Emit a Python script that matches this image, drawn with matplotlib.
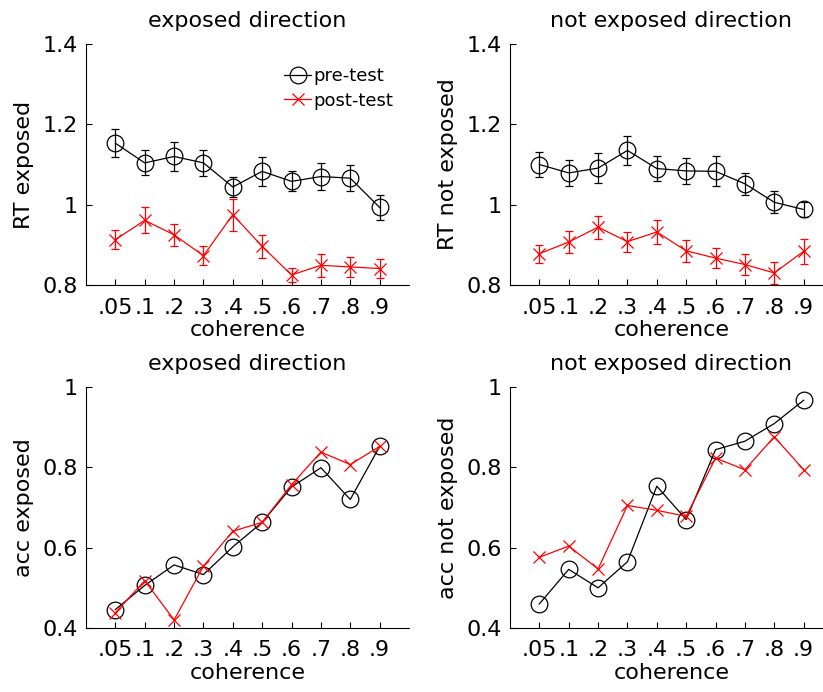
import matplotlib
matplotlib.use("Agg")
import matplotlib.pyplot as plt
from matplotlib.lines import Line2D
import numpy as np

coherence_labels = [".05", ".1", ".2", ".3", ".4", ".5", ".6", ".7", ".8", ".9"]

rt_exp_pre = [1.153, 1.104, 1.120, 1.104, 1.044, 1.083, 1.058, 1.070, 1.066, 0.993]
rt_exp_pre_err = [0.035, 0.031, 0.037, 0.033, 0.024, 0.036, 0.025, 0.034, 0.032, 0.030]
rt_exp_post = [0.913, 0.961, 0.925, 0.873, 0.975, 0.896, 0.825, 0.849, 0.845, 0.841]
rt_exp_post_err = [0.023, 0.032, 0.028, 0.023, 0.040, 0.029, 0.017, 0.029, 0.025, 0.024]

rt_nexp_pre = [1.100, 1.079, 1.091, 1.135, 1.090, 1.084, 1.083, 1.052, 1.006, 0.988]
rt_nexp_pre_err = [0.030, 0.032, 0.037, 0.037, 0.030, 0.032, 0.037, 0.028, 0.027, 0.018]
rt_nexp_post = [0.878, 0.907, 0.944, 0.908, 0.932, 0.885, 0.867, 0.851, 0.830, 0.884]
rt_nexp_post_err = [0.022, 0.027, 0.029, 0.025, 0.029, 0.027, 0.024, 0.025, 0.028, 0.031]

acc_exp_pre = [0.446, 0.506, 0.557, 0.533, 0.602, 0.663, 0.751, 0.799, 0.720, 0.852]
acc_exp_post = [0.438, 0.518, 0.420, 0.554, 0.641, 0.663, 0.757, 0.838, 0.807, 0.852]

acc_nexp_pre = [0.460, 0.546, 0.500, 0.565, 0.753, 0.670, 0.844, 0.865, 0.909, 0.967]
acc_nexp_post = [0.576, 0.604, 0.547, 0.705, 0.693, 0.678, 0.823, 0.794, 0.876, 0.794]

plt.rcParams['font.family'] = ['DejaVu Sans']
FS = 16

fig = plt.figure(figsize=(8.23, 6.92), dpi=100)
W, H = 823, 692

def make_ax(l, r, t, b):
    return fig.add_axes([l / W, (H - b) / H, (r - l) / W, (b - t) / H])

ax1 = make_ax(86, 409, 44, 285)
ax2 = make_ax(510, 833, 44, 285)
ax3 = make_ax(86, 409, 387, 628)
ax4 = make_ax(510, 833, 387, 628)

x = np.arange(1, len(coherence_labels) + 1)

def style(ax, ylim, yticks, ylabels, ylabel, title):
    ax.set_xlim(0, 11)
    ax.set_ylim(*ylim)
    ax.set_xticks(x)
    ax.set_xticklabels(coherence_labels, fontsize=FS)
    ax.set_yticks(yticks)
    ax.set_yticklabels(ylabels, fontsize=FS)
    ax.tick_params(direction='in', length=4, width=0.8)
    ax.tick_params(axis='x', pad=9)
    ax.tick_params(axis='y', pad=6)
    ax.spines['top'].set_visible(False)
    ax.spines['right'].set_visible(False)
    for s in ('left', 'bottom'):
        ax.spines[s].set_linewidth(0.8)
    ax.set_xlabel('coherence', fontsize=FS, labelpad=2)
    ax.set_ylabel(ylabel, fontsize=FS, labelpad=6)
    ax.set_title(title, fontsize=FS, pad=12)

def rt_plot(ax, pre, pre_err, post, post_err):
    ax.errorbar(x, pre, yerr=pre_err, color='black', marker='o', ms=12,
                mfc='none', mec='black', mew=0.9, lw=0.9, elinewidth=0.9,
                capsize=3, capthick=0.9)
    ax.errorbar(x, post, yerr=post_err, color='red', marker='x', ms=9,
                mew=0.9, lw=0.9, elinewidth=0.9, capsize=3, capthick=0.9)

def acc_plot(ax, pre, post):
    ax.plot(x, pre, color='black', marker='o', ms=12, mfc='none',
            mec='black', mew=0.9, lw=0.9)
    ax.plot(x, post, color='red', marker='x', ms=9, mew=0.9, lw=0.9)

rt_plot(ax1, rt_exp_pre, rt_exp_pre_err, rt_exp_post, rt_exp_post_err)
rt_plot(ax2, rt_nexp_pre, rt_nexp_pre_err, rt_nexp_post, rt_nexp_post_err)
acc_plot(ax3, acc_exp_pre, acc_exp_post)
acc_plot(ax4, acc_nexp_pre, acc_nexp_post)

rt_ticks = [0.8, 1.0, 1.2, 1.4]
rt_labels = ['0.8', '1', '1.2', '1.4']
acc_ticks = [0.4, 0.6, 0.8, 1.0]
acc_labels = ['0.4', '0.6', '0.8', '1']

style(ax1, (0.8, 1.4), rt_ticks, rt_labels, 'RT exposed', 'exposed direction')
style(ax2, (0.8, 1.4), rt_ticks, rt_labels, 'RT not exposed', 'not exposed direction')
style(ax3, (0.4, 1.0), acc_ticks, acc_labels, 'acc exposed', 'exposed direction')
style(ax4, (0.4, 1.0), acc_ticks, acc_labels, 'acc not exposed', 'not exposed direction')

handles = [
    Line2D([], [], color='black', marker='o', ms=12, mfc='none', mec='black',
           mew=0.9, lw=0.9),
    Line2D([], [], color='red', marker='x', ms=9, mew=0.9, lw=0.9),
]
ax1.legend(handles, ['pre-test', 'post-test'], loc='upper right',
           bbox_to_anchor=(1.0, 0.97), frameon=False, fontsize=13,
           handlelength=1.5, handletextpad=0.1, labelspacing=0.35)

fig.savefig('out.png', dpi=100)
